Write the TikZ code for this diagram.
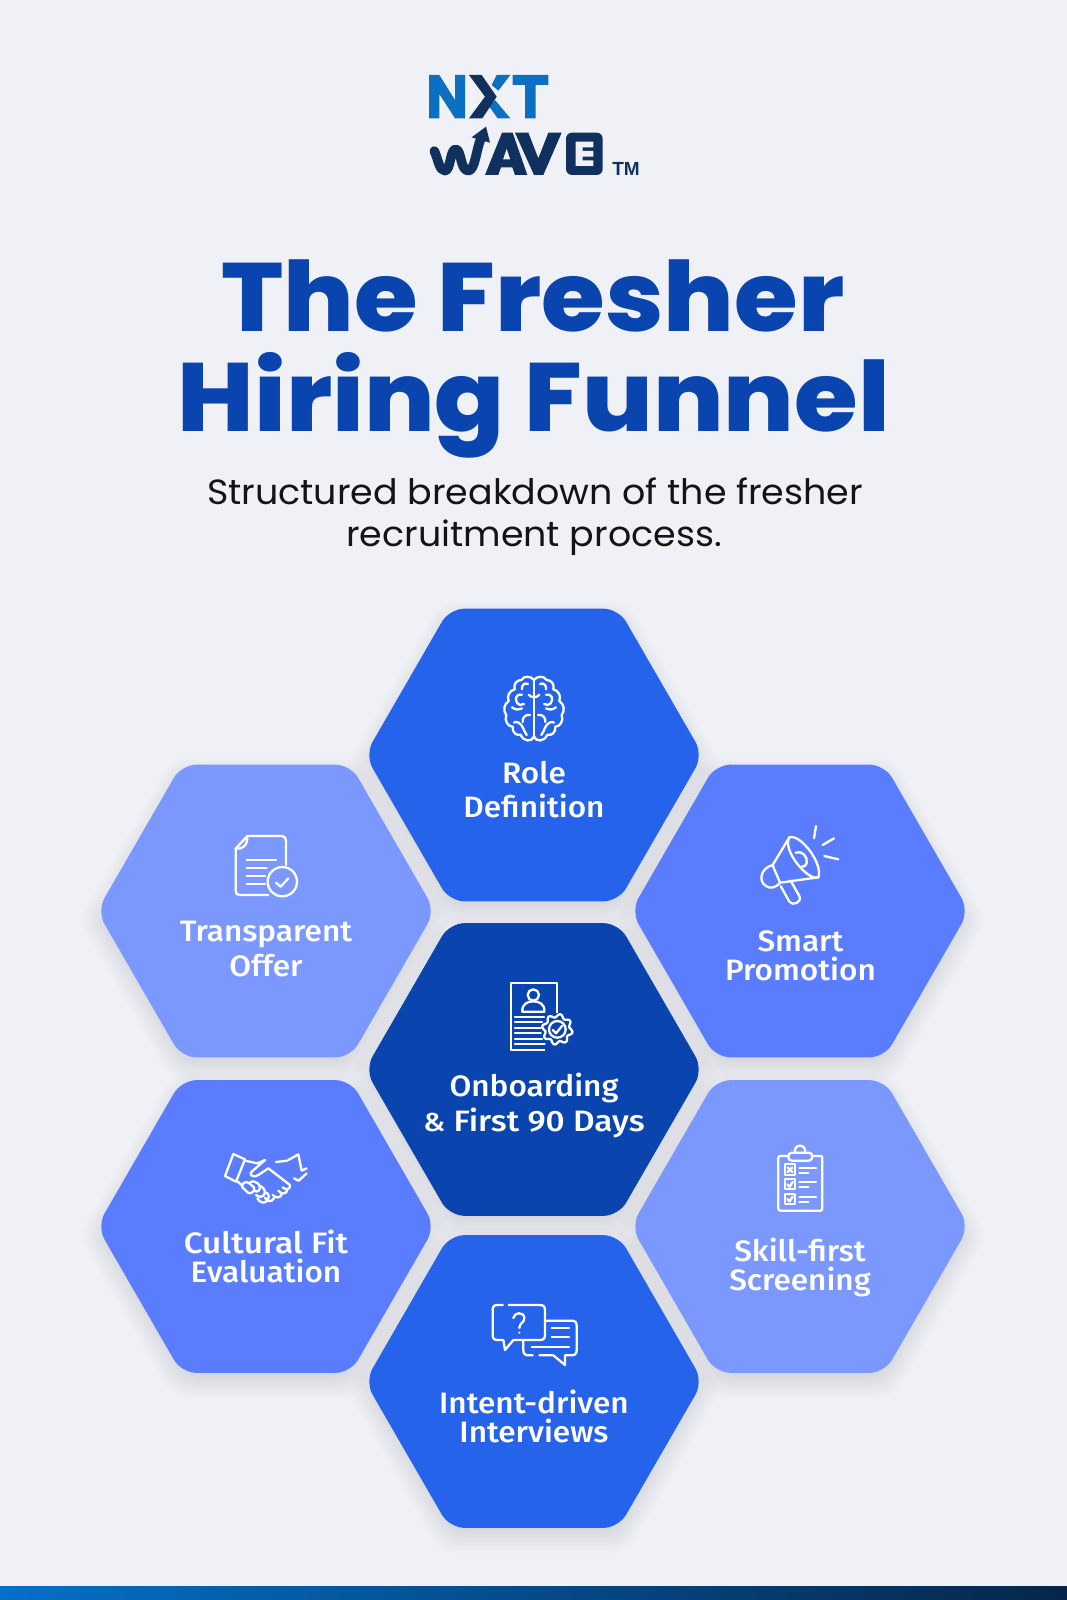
\documentclass[tikz,border=0pt]{standalone}
\usepackage{fontspec}
\usetikzlibrary{shapes.geometric}
\newfontfamily\titlef{Poppins}[UprightFont=* ExtraBold,FakeStretch=1.063]
\newfontfamily\subf{Poppins}[FakeStretch=1.04]
\newfontfamily\labf{Fira Sans}[UprightFont=* Medium,FakeStretch=1.07]
\newfontfamily\labw{Fira Sans}[UprightFont=* Medium,FakeStretch=1.13]
\newfontfamily\tmf{Liberation Sans}[Scale=1]
\definecolor{bgc}{HTML}{EFF1F6}
\definecolor{titleblue}{HTML}{0A45AF}
\definecolor{hexa}{HTML}{2563EB}
\definecolor{hexb}{HTML}{5A7DFF}
\definecolor{hexc}{HTML}{7B98FF}
\definecolor{hexd}{HTML}{0A45AF}
\definecolor{nblue}{HTML}{0B6FC2}
\definecolor{navy}{HTML}{10305E}
\definecolor{barl}{HTML}{0570C8}
\definecolor{barr}{HTML}{06264A}
\tikzset{
  hexbox/.style={regular polygon,regular polygon sides=6,minimum size=338pt,inner sep=0pt,outer sep=0pt,rounded corners=15pt,draw=none},
  icon/.style={draw=white,line width=2.3pt,line cap=round,line join=round},
  hexlabel/.style={text=white,align=center,font=\labf\fontsize{29.5}{34.5}\selectfont},
  tightlabel/.style={text=white,align=center,font=\labf\fontsize{29.5}{29}\selectfont},
}
\begin{document}
\begin{tikzpicture}[x=1pt,y=-1pt]
\useasboundingbox (0,0) rectangle (1067,1600);
\fill[bgc] (0,0) rectangle (1067,1600);
\shade[left color=barl,right color=barr] (0,1586) rectangle (1067,1600);
% logo
\begin{scope}[shift={(400,50)},scale=1/3]
\fill[nblue] (87,75)--(118,75)--(165,150)--(165,75)--(195,75)--(195,205)--(165,205)--(118,132)--(118,205)--(87,205)--cycle;
\fill[nblue] (290,75)--(331,75)--(295,122)--(275,105)--cycle;
\fill[nblue] (285,150)--(331,205)--(293,205)--(268,170)--cycle;
\fill[navy] (207,75)--(245,75)--(290,140)--(247,205)--(207,205)--(255,140)--cycle;
\fill[nblue] (338,75)--(445,75)--(445,105)--(407,105)--(407,205)--(375,205)--(375,105)--(338,105)--cycle;
\draw[navy,line width=9.5pt,line join=round,line cap=round] (103,303) .. controls (115,330) and (118,362) .. (135,362) .. controls (152,362) and (150,298) .. (167,298) .. controls (185,298) and (180,362) .. (205,362) .. controls (225,362) and (228,300) .. (243,265);
\fill[navy] (215,262)--(258,230)--(270,278)--cycle;
\fill[navy,even odd rule] (255,375)--(306,248)--(338,248)--(382,375)--(345,375)--(337,352)--(303,352)--(295,375)--cycle (320,295)--(309,328)--(331,328)--cycle;
\fill[navy] (345,248)--(385,248)--(415,325)--(445,248)--(485,248)--(430,375)--(402,375)--cycle;
\fill[navy,rounded corners=6pt] (498,248) rectangle (608,375);
\fill[bgc] (527,275)--(580,275)--(580,292)--(548,292)--(548,303)--(580,303)--(580,320)--(548,320)--(548,331)--(580,331)--(580,348)--(527,348)--cycle;
\end{scope}
\node[anchor=base,text=navy,font=\tmf\bfseries\fontsize{19}{19}\selectfont,inner sep=0pt] (tm) at (626,175) {TM};
% title
\node[anchor=base,text=titleblue,font=\titlef\fontsize{97}{97}\selectfont,inner sep=0pt] (t1) at (533,331) {The Fresher};
\node[anchor=base,text=titleblue,font=\titlef\fontsize{97}{97}\selectfont,inner sep=0pt] (t2) at (534,431.5) {Hiring Funnel};
\node[anchor=base,text=black!92,font=\subf\fontsize{35}{42}\selectfont,inner sep=0pt] (s1) at (535,504) {Structured breakdown of the fresher};
\node[anchor=base,text=black!92,font=\subf\fontsize{35}{42}\selectfont,inner sep=0pt] (s2) at (534,546) {recruitment process.};
% shadows
\foreach \x/\y in {534/755,266/911,800/911,534/1069.5,266/1226.5,800/1226.5,534/1381.5}{
  \foreach \w in {-8,-6,-4,-2,0,2,4,6,8,10,12,14,16}{
    \node[hexbox,fill=black,minimum size={338pt+2.31pt*\w},opacity=.007] at (\x,\y+9) {};
  }
}
% hexagons
\node[hexbox,fill=hexa] (role) at (534,755) {};
\node[hexbox,fill=hexc] (offer) at (266,911) {};
\node[hexbox,fill=hexb] (promo) at (800,911) {};
\node[hexbox,fill=hexd] (onboard) at (534,1069.5) {};
\node[hexbox,fill=hexb] (culture) at (266,1226.5) {};
\node[hexbox,fill=hexc] (skill) at (800,1226.5) {};
\node[hexbox,fill=hexa] (intent) at (534,1381.5) {};
% labels
\node[hexlabel] (lrole) at (534,789.5) {Role\\Definition};
\node[hexlabel] (loffer) at (266,949) {Transparent\\Offer};
\node[tightlabel] (lpromo) at (800.5,955.5) {Smart\\Promotion};
\node[hexlabel] (lonboard) at (534,1105.5) {Onboarding\\{\labw{\fontsize{26}{26}\selectfont\&} First 90 Days}};
\node[tightlabel] (lculture) at (266,1256) {{\labw Cultural Fit}\\Evaluation};
\node[tightlabel] (lskill) at (800,1267) {Skill-first\\Screening};
\node[tightlabel] (lintent) at (534,1416) {Intent-driven\\Interviews};
% brain
\begin{scope}[shift={(360,600)},scale=1/3]
\draw[icon] (522,240)--(522,415);
\foreach \sx in {1,-1}{
\begin{scope}[shift={(522,0)},xscale=\sx]
\draw[icon] (0,240) .. controls (8,228) and (30,226) .. (38,240) .. controls (52,240) and (62,252) .. (58,268) .. controls (74,272) and (82,288) .. (76,303) .. controls (90,312) and (94,332) .. (83,345) .. controls (90,362) and (78,380) .. (64,380) .. controls (66,398) and (52,408) .. (40,404) .. controls (32,425) and (6,428) .. (0,408);
\draw[icon] (18,252) .. controls (30,246) and (38,258) .. (36,268);
\draw[icon] (36,284) .. controls (52,280) and (60,296) .. (50,310) .. controls (46,316) and (38,316) .. (30,312);
\draw[icon] (0,290) .. controls (6,292) and (12,290) .. (16,284);
\draw[icon] (36,325) .. controls (46,330) and (56,330) .. (66,322);
\draw[icon] (12,345) .. controls (24,342) and (36,352) .. (34,366);
\draw[icon] (22,405) .. controls (32,392) and (32,376) .. (46,368) .. controls (52,364) and (58,366) .. (60,368);
\end{scope}
}
\end{scope}
% document with check
\begin{scope}[shift={(200,810)},scale=1/3]
\draw[icon] (258,165)--(258,92) .. controls (258,83) and (253,78) .. (245,78)--(142,78)--(107,116)--(107,243) .. controls (107,251) and (111,255) .. (119,255)--(205,255);
\draw[icon] (107,116) .. controls (125,118) and (143,110) .. (142,78);
\draw[icon] (140,150)--(228,150) (140,175)--(200,175) (140,198)--(195,198) (140,222)--(195,222);
\draw[icon] (247,215) circle[radius=44];
\draw[icon] (228,218)--(242,230)--(265,205);
\end{scope}
% megaphone
\begin{scope}[shift={(720,800)},scale=1/3]
\draw[icon] (208,112) .. controls (240,100) and (310,190) .. (295,232) .. controls (265,245) and (185,150) .. (208,112)--cycle;
\draw[icon] (208,112)--(158,195) .. controls (120,205) and (115,245) .. (138,258) .. controls (150,268) and (170,262) .. (180,248)--(295,232);
\draw[icon] (158,195) .. controls (165,215) and (175,235) .. (180,248);
\draw[icon] (182,258)--(208,305) .. controls (218,320) and (248,305) .. (238,288)--(212,242);
\draw[icon] (227,158) .. controls (245,150) and (265,170) .. (260,190) .. controls (258,198) and (252,200) .. (246,200);
\draw[icon] (288,78)--(282,115) (308,135)--(342,115) (313,168)--(355,178);
\end{scope}
% resume + gear
\begin{scope}[shift={(480,960)},scale=1/3]
\draw[icon,line cap=butt] (230,160)--(230,70)--(92,70)--(92,270)--(196,270);
\draw[icon] (160,105) circle[radius=17];
\draw[icon] (127,155) .. controls (125,132) and (143,124) .. (160,124) .. controls (177,124) and (195,132) .. (193,155)--cycle;
\draw[icon] (105,170)--(192,170) (105,187)--(186,187) (105,203)--(182,203) (105,220)--(182,220) (105,237)--(186,237) (105,253)--(194,253);
\draw[icon,smooth] plot[domain=0:360,samples=121] ({232+(41+5*sin(8*\x))*cos(\x)},{208+(41+5*sin(8*\x))*sin(\x)});
\draw[icon] (232,208) circle[radius=25];
\draw[icon] (218,210)--(228,220)--(246,198);
\end{scope}
% handshake
\begin{scope}[shift={(200,1130)},scale=1/3]
\draw[icon] (100,72)--(135,88)--(108,155)--(75,138)--cycle;
\draw[icon] (265,90)--(295,73)--(305,122)--(320,115) (320,130)--(296,152)--(282,145);
\draw[icon] (135,92)--(172,100) (172,100)--(195,90);
\draw[icon] (195,90)--(152,128) .. controls (150,140) and (165,142) .. (175,135)--(205,115)--(270,165);
\draw[icon] (228,96)--(262,92);
\draw[icon] (110,152)--(128,168) (270,165) .. controls (272,178) and (258,182) .. (248,172) (262,178) .. controls (262,192) and (245,195) .. (235,182) (245,193) .. controls (240,205) and (228,205) .. (218,195) (222,205) .. controls (214,220) and (198,212) .. (195,203);
\draw[icon] (127,172) .. controls (122,162) and (138,150) .. (148,160)--(162,172) .. controls (168,182) and (152,194) .. (144,188)--cycle;
\draw[icon] (150,158) .. controls (155,150) and (170,155) .. (178,165) .. controls (186,178) and (172,190) .. (162,182);
\draw[icon] (178,170) .. controls (185,165) and (195,178) .. (195,188) .. controls (192,200) and (180,205) .. (168,195);
\draw[icon] (195,188) .. controls (205,186) and (210,200) .. (203,210) .. controls (195,222) and (180,220) .. (172,205);
\end{scope}
% clipboard
\begin{scope}[shift={(750,1130)},scale=1/3]
\draw[icon,rounded corners=2pt] (115,78)--(85,78)--(85,242)--(217,242)--(217,78)--(187,78);
\draw[icon,rounded corners=3.5pt] (115,68) rectangle (187,92);
\draw[icon] (135,68) .. controls (130,40) and (170,40) .. (165,68);
\draw[icon] (105,103) rectangle (135,135) (105,148) rectangle (135,178) (105,192) rectangle (135,222);
\draw[icon] (113,112)--(127,126) (127,112)--(113,126);
\draw[icon] (112,163)--(119,170)--(128,156) (112,207)--(119,214)--(128,200);
\draw[icon] (148,113)--(198,113) (148,128)--(175,128) (148,157)--(198,157) (148,172)--(175,172) (148,202)--(198,202) (148,217)--(175,217);
\end{scope}
% chat
\begin{scope}[shift={(470,1290)},scale=1/3]
\draw[icon] (98,45)--(82,45) .. controls (72,45) and (68,50) .. (68,60)--(68,135) .. controls (68,145) and (72,150) .. (82,150)--(100,150)--(105,180)--(130,150)--(210,150) .. controls (220,150) and (225,145) .. (225,135)--(225,60) .. controls (225,50) and (220,45) .. (210,45)--(116,45);
\draw[icon] (225,92)--(305,92) .. controls (315,92) and (320,97) .. (320,107)--(320,180) .. controls (320,190) and (315,196) .. (305,196)--(285,196)--(285,225)--(250,196)--(208,196);
\draw[icon] (188,196)--(175,196) .. controls (165,196) and (160,190) .. (160,180)--(160,152);
\draw[icon] (245,115)--(297,115) (245,142)--(297,142) (185,170)--(297,170);
\draw[icon] (130,84) .. controls (132,66) and (162,64) .. (163,84) .. controls (164,98) and (148,98) .. (148,114);
\fill[white] (148,128) circle[radius=3.5];
\end{scope}
\end{tikzpicture}
\end{document}
